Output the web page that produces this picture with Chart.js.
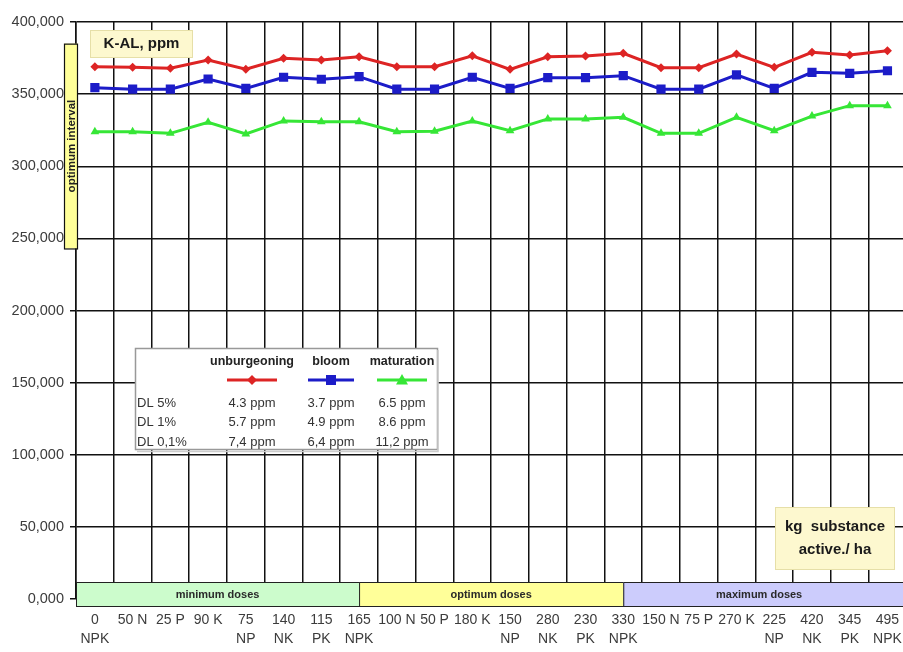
<!DOCTYPE html>
<html>
<head>
<meta charset="utf-8">
<script src="https://cdn.jsdelivr.net/npm/chart.js@4.4.0/dist/chart.umd.min.js"></script>
<style>
  html, body { margin: 0; padding: 0; background: #fff; overflow: hidden; }
  canvas { display: block; }
</style>
</head>
<body>
<canvas id="myChart" width="914" height="652"></canvas>
<script>
const categories = [['0', 'NPK'], '50 N', '25 P', '90 K', ['75', 'NP'], ['140', 'NK'], ['115', 'PK'], ['165', 'NPK'],
    '100 N', '50 P', '180 K', ['150', 'NP'], ['280', 'NK'], ['230', 'PK'], ['330', 'NPK'],
    '150 N', '75 P', '270 K', ['225', 'NP'], ['420', 'NK'], ['345', 'PK'], ['495', 'NPK']];

const unburgeoning = [369.0, 368.6, 367.9, 373.7, 367.2, 374.8, 373.7, 375.9, 369.0, 369.0, 376.6,
    367.2, 375.9, 376.4, 378.3, 368.3, 368.3, 377.8, 368.6, 379.0, 377.1, 380.1];
const bloom = [354.5, 353.4, 353.4, 360.5, 354.0, 361.7, 360.3, 362.1, 353.4, 353.4, 361.7,
    354.0, 361.4, 361.4, 362.8, 353.4, 353.4, 363.3, 354.0, 365.1, 364.4, 366.2];
const maturation = [323.9, 323.9, 322.8, 330.5, 322.4, 331.4, 330.9, 330.9, 323.9, 324.3, 331.4,
    324.6, 332.8, 332.8, 333.9, 322.8, 322.8, 333.9, 324.6, 334.8, 342.0, 342.0];

const yTickLabels = ['0,000', '50,000', '100,000', '150,000', '200,000', '250,000', '300,000', '350,000', '400,000'];

// dose groups: label + category index where each group ends
const bandLabels = ['minimum doses', 'optimum doses', 'maximum doses'];
const bandEdges = [7, 14];

// optimum interval (ppm)
const optimumInterval = [243, 385];

const dlRows = ['DL 5%', 'DL 1%', 'DL 0,1%'];
const dlUnburgeoning = ['4.3 ppm', '5.7 ppm', '7,4 ppm'];
const dlBloom = ['3.7 ppm', '4.9 ppm', '6,4 ppm'];
const dlMaturation = ['6.5 ppm', '8.6 ppm', '11,2 ppm'];

const redColor = '#dd2424';
const blueColor = '#1c1cc8';
const greenColor = '#36e636';
const font = '"Liberation Sans", Arial, sans-serif';

function marker(ctx, style, x, y, r, color) {
    ctx.fillStyle = color;
    ctx.beginPath();
    if (style === 'rectRot') {
        ctx.moveTo(x, y - r); ctx.lineTo(x + r, y); ctx.lineTo(x, y + r); ctx.lineTo(x - r, y);
    } else if (style === 'rect') {
        ctx.rect(x - r, y - r, 2 * r, 2 * r);
    } else {
        ctx.moveTo(x, y - r); ctx.lineTo(x + r, y + r * 0.75); ctx.lineTo(x - r, y + r * 0.75);
    }
    ctx.closePath();
    ctx.fill();
}

function noteBox(ctx, x, y, w, h, lines, size, lh) {
    ctx.fillStyle = '#fdf8cf';
    ctx.fillRect(x, y, w, h);
    ctx.strokeStyle = '#e6dfa8';
    ctx.lineWidth = 1;
    ctx.strokeRect(x + 0.5, y + 0.5, w - 1, h - 1);
    ctx.fillStyle = '#1a1a1a';
    ctx.font = 'bold ' + size + 'px ' + font;
    ctx.textAlign = 'center';
    ctx.textBaseline = 'middle';
    const cy = y + h / 2 - (lines.length - 1) * lh / 2;
    lines.forEach((t, i) => ctx.fillText(t, x + w / 2, cy + i * lh));
}

const decor = {
    id: 'decor',
    afterDraw(chart) {
        const {ctx, chartArea: a, scales: {x, y}} = chart;
        ctx.save();

        // dose bands along the bottom
        const y0 = y.getPixelForValue(0);
        const top = y0 - 17, bot = y0 + 7;
        const edges = [a.left, x.getPixelForValue(bandEdges[0]), x.getPixelForValue(bandEdges[1]), a.right + 2];
        const fills = ['#ccfccc', '#ffff99', '#ccccfc'];
        for (let i = 0; i < 3; i++) {
            ctx.fillStyle = fills[i];
            ctx.fillRect(edges[i], top, edges[i + 1] - edges[i], bot - top);
            ctx.strokeStyle = '#222';
            ctx.lineWidth = 1;
            ctx.strokeRect(edges[i] + 0.5, top + 0.5, edges[i + 1] - edges[i], bot - top);
            ctx.fillStyle = '#2a2a2a';
            ctx.font = 'bold 11px ' + font;
            ctx.textAlign = 'center';
            ctx.textBaseline = 'middle';
            ctx.fillText(bandLabels[i], (edges[i] + Math.min(edges[i + 1], 903)) / 2 + (i === 2 ? -4 : 0), (top + bot) / 2 + 1);
        }

        // optimum interval bar
        const oTop = y.getPixelForValue(optimumInterval[1]);
        const oBot = y.getPixelForValue(optimumInterval[0]);
        ctx.fillStyle = '#ffff99';
        ctx.fillRect(64, oTop, 14, oBot - oTop);
        ctx.strokeStyle = '#111';
        ctx.lineWidth = 1.2;
        ctx.strokeRect(64.5, oTop + 0.5, 13, oBot - oTop);
        ctx.save();
        ctx.translate(71.5, (oTop + oBot) / 2);
        ctx.rotate(-Math.PI / 2);
        ctx.fillStyle = '#222';
        ctx.font = 'bold 11.5px ' + font;
        ctx.textAlign = 'center';
        ctx.textBaseline = 'middle';
        ctx.fillText('optimum interval', 0, 0);
        ctx.restore();

        noteBox(ctx, 90, 30, 103, 28, ['K-AL, ppm'], 15, 0);
        noteBox(ctx, 775, 507, 120, 63, ['kg  substance', 'active./ ha'], 15, 23);

        // DL table legend
        ctx.fillStyle = '#fff';
        ctx.fillRect(135, 348, 303, 102);
        ctx.strokeStyle = '#999';
        ctx.lineWidth = 1.5;
        ctx.strokeRect(135.5, 348.5, 302, 101);
        ctx.strokeStyle = '#ccc';
        ctx.beginPath();
        ctx.moveTo(438, 350); ctx.lineTo(438, 451.5); ctx.lineTo(137, 451.5);
        ctx.stroke();

        const cols = [
            {name: 'unburgeoning', x: 252, color: redColor, style: 'rectRot', r: 5, vals: dlUnburgeoning, half: 25},
            {name: 'bloom', x: 331, color: blueColor, style: 'rect', r: 5, vals: dlBloom, half: 23},
            {name: 'maturation', x: 402, color: greenColor, style: 'triangle', r: 6, vals: dlMaturation, half: 25}
        ];
        ctx.textAlign = 'center';
        ctx.textBaseline = 'middle';
        cols.forEach(c => {
            ctx.fillStyle = '#222';
            ctx.font = 'bold 12.5px ' + font;
            ctx.fillText(c.name, c.x, 362);
            ctx.strokeStyle = c.color;
            ctx.lineWidth = 3;
            ctx.beginPath();
            ctx.moveTo(c.x - c.half, 380); ctx.lineTo(c.x + c.half, 380);
            ctx.stroke();
            marker(ctx, c.style, c.x, 380, c.r, c.color);
            ctx.fillStyle = '#333';
            ctx.font = '13px ' + font;
            c.vals.forEach((v, i) => ctx.fillText(v, c.x, 403 + i * 19.5));
        });
        ctx.textAlign = 'left';
        ctx.fillStyle = '#333';
        dlRows.forEach((t, i) => ctx.fillText(t, 137, 403 + i * 19.5));

        ctx.restore();
    }
};

const data = {
    labels: categories,
    datasets: [{
        label: 'unburgeoning',
        data: unburgeoning,
        borderColor: redColor,
        backgroundColor: redColor,
        pointStyle: 'rectRot',
        pointRadius: 4.5
    }, {
        label: 'bloom',
        data: bloom,
        borderColor: blueColor,
        backgroundColor: blueColor,
        pointStyle: 'rect',
        pointRadius: 6.5
    }, {
        label: 'maturation',
        data: maturation,
        borderColor: greenColor,
        backgroundColor: greenColor,
        pointStyle: 'triangle',
        pointRadius: 5
    }]
};

new Chart(document.getElementById('myChart'), {
    type: 'line',
    data: data,
    options: {
        responsive: false,
        animation: false,
        layout: {padding: {top: 22, right: 2, left: 0, bottom: 0}},
        elements: {
            line: {borderWidth: 3, tension: 0},
            point: {borderWidth: 0}
        },
        plugins: {legend: {display: false}, tooltip: {enabled: false}},
        scales: {
            x: {
                offset: true,
                grid: {offset: true, color: '#111', lineWidth: 1.5, drawTicks: false},
                border: {display: false},
                ticks: {
                    autoSkip: false, maxRotation: 0, minRotation: 0, padding: 12,
                    color: '#3c3c3c', font: {family: font, size: 14, lineHeight: 1.35}
                },
                afterFit(s) { s.height = 53; }
            },
            y: {
                min: 0,
                max: 400,
                ticks: {
                    stepSize: 50, padding: 6,
                    color: '#3c3c3c', font: {family: font, size: 14.5},
                    callback: (v, i) => yTickLabels[i]
                },
                grid: {color: '#111', lineWidth: 1.5, tickLength: 6},
                border: {color: '#111', width: 1.5},
                afterFit(s) { s.width = 76; }
            }
        }
    },
    plugins: [decor]
});
</script>
</body>
</html>
